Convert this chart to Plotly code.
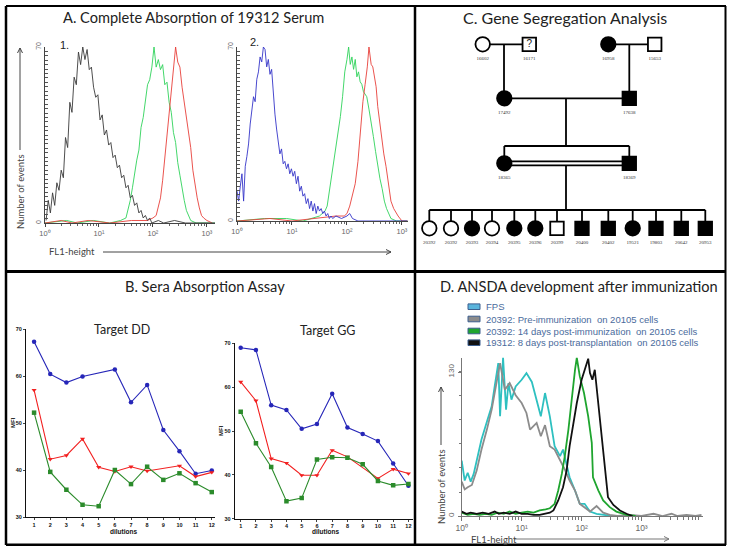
import numpy as np
import plotly.graph_objects as go

W, H = 732, 551
def X(p): return p / W
def Y(p): return 1 - p / H

TITLE_FONT = "Lato"
# ---------------- Panel A data (log10 FL1 channel, number of events) -------------
a1_black_lx = [0.02,0.06,0.10,0.14,0.18,0.22,0.26,0.30,0.34,0.38,0.42,0.46,0.50,0.54,0.58,0.62,0.66,0.70,0.74,0.78,
               0.82,0.86,0.90,0.94,0.98,1.02,1.06,1.10,1.14,1.18,1.22,1.26,1.30,1.34,1.38,1.42,1.46,1.50,1.54,1.58,
               1.62,1.66,1.70,1.74,1.78,1.82,1.86,1.90,1.94,1.98,2.10,2.20,2.40,2.60,3.15]
a1_black_y = [1,9,4,12,7,16,13,21,18,34,30,48,44,58,55,68,63,70,65,69,
              61,62,54,50,51,41,43,35,37,31,32,26,27,22,23,18,19,14,15,10,
              11,7,8,4,5,2,3,1,2,0,1,0,1,0,0]
a1_green_lx = [0.0,0.4,0.6,0.9,1.2,1.4,1.5,1.54,1.58,1.62,1.66,1.70,1.74,1.78,1.82,1.86,1.90,1.94,1.98,2.02,
               2.06,2.10,2.14,2.18,2.22,2.26,2.30,2.34,2.38,2.42,2.46,2.50,2.54,2.58,2.62,2.66,2.70,2.80,3.15]
a1_green_y = [0,1,0,1,0,1,2,5,9,14,20,25,29,38,42,48,55,57,62,70,
              62,65,61,63,55,56,48,44,36,32,24,19,13,9,5,3,1,0,0]
a1_red_lx = [0.0,0.3,0.5,0.8,1.2,1.6,1.9,2.0,2.06,2.10,2.14,2.18,2.22,2.26,2.30,2.34,2.38,2.42,2.46,2.50,
             2.54,2.58,2.62,2.66,2.70,2.74,2.78,2.82,2.86,2.90,2.94,3.0,3.1]
a1_red_y = [0,1,0,1,0,1,1,2,3,6,10,17,26,33,45,52,60,70,64,62,
            54,48,41,34,30,21,15,10,6,3,2,1,0]

a2_blue_lx = [0.0,0.03,0.06,0.09,0.12,0.15,0.18,0.21,0.24,0.27,0.30,0.33,0.36,0.39,0.42,0.45,0.48,0.51,0.54,0.57,
              0.60,0.63,0.66,0.69,0.72,0.75,0.78,0.81,0.84,0.87,0.90,0.93,0.96,0.99,1.02,1.05,1.08,1.11,1.14,1.17,
              1.20,1.23,1.26,1.29,1.32,1.35,1.38,1.41,1.44,1.47,1.50,1.53,1.56,1.59,1.62,1.65,1.68,1.71,1.74,1.80,
              1.90,2.00,2.05,2.10,2.20,3.10]
a2_blue_y = [12,8,14,19,8,22,26,31,39,45,50,48,57,60,66,64,70,69,62,65,
             59,61,50,43,37,31,27,29,23,24,21,23,19,21,18,20,15,18,12,14,
             10,11,7,9,5,8,4,7,3,6,4,5,3,4,2,3,1,2,1,2,
             1,2,3,1,0,0]
a2_green_lx = [0.0,0.5,0.9,1.2,1.5,1.6,1.64,1.68,1.72,1.76,1.80,1.84,1.88,1.92,1.96,2.00,2.03,2.06,2.09,2.12,
               2.15,2.18,2.21,2.24,2.27,2.30,2.33,2.36,2.40,2.44,2.48,2.52,2.56,2.60,2.64,2.68,2.72,2.76,2.80,2.90,3.10]
a2_green_y = [0,1,1,0,2,4,6,12,17,22,30,35,42,50,60,65,70,63,66,61,
              65,58,60,56,55,52,51,50,45,40,34,28,22,17,13,8,5,3,1,0,0]
a2_red_lx = [0.0,0.6,1.0,1.4,1.8,1.95,2.0,2.05,2.10,2.15,2.20,2.25,2.29,2.33,2.37,2.40,2.44,2.47,2.50,2.53,
             2.56,2.60,2.63,2.67,2.71,2.75,2.80,2.85,2.93,3.0,3.1]
a2_red_y = [0,1,0,1,2,2,3,6,10,15,24,38,48,55,62,70,63,62,57,54,
            46,39,33,27,22,15,8,5,2,0,0]

# ---------------- Panel B data (MFI per dilution) -------------
dilutions = [1,2,3,4,5,6,7,8,9,10,11,12]
dd_blue  = [67.3,60.4,58.6,59.9,None,61.4,54.4,58.1,48.5,44.0,39.2,39.9]
dd_red   = [57.0,42.3,43.1,46.6,40.6,39.7,40.7,39.8,None,40.9,38.6,39.5]
dd_green = [52.2,39.6,35.8,32.6,32.3,40.0,37.0,40.7,37.9,39.3,37.2,35.3]
gg_blue  = [69.0,68.5,55.9,54.8,50.5,51.6,58.5,50.8,49.3,47.7,42.6,37.5]
gg_red   = [61.2,56.9,43.7,42.7,39.9,39.9,45.6,44.1,None,39.2,41.3,40.3]
gg_green = [54.4,47.2,41.8,34.0,34.7,43.5,44.0,43.9,42.4,38.6,37.6,37.9]

# ---------------- Panel D data -------------
d_names = ["FPS", "20392: Pre-immunization  on 20105 cells",
           "20392: 14 days post-immunization  on 20105 cells",
           "19312: 8 days post-transplantation  on 20105 cells"]
d_fps_lx = [0.00,0.05,0.10,0.15,0.20,0.25,0.33,0.42,0.50,0.55,0.61,0.64,0.69,0.74,0.78,0.83,0.90,1.00,1.08,1.17,
            1.25,1.32,1.39,1.47,1.55,1.64,1.69,1.80,1.89,1.97,2.05,2.14,2.25,2.36,2.50,2.70]
d_fps_y = [50,32,39,31,38,50,69,85,99,117,138,90,143,96,120,105,117,123,129,121,
           105,90,111,90,63,54,60,35,23,11,11,4,2,1,0,0]
d_pre_lx = [0.00,0.05,0.10,0.17,0.25,0.33,0.42,0.50,0.58,0.64,0.72,0.80,0.90,1.00,1.08,1.14,1.25,1.32,1.39,1.47,
            1.55,1.64,1.72,1.80,1.89,1.97,2.05,2.14,2.25,2.36,2.47,2.60,2.80,3.00,3.20,3.35,3.50,3.60,3.75,3.90,4.00]
d_pre_y = [31,24,26,28,41,60,78,96,120,138,114,120,109,102,93,78,84,72,82,63,
           60,51,42,32,23,11,8,4,9,3,1,0,1,0,2,0,2,0,1,0,1]
d_d14_lx = [0.00,0.10,0.20,0.30,0.40,0.50,0.60,0.70,0.80,0.90,1.00,1.10,1.20,1.30,1.40,1.47,1.55,1.61,1.67,1.72,
            1.78,1.83,1.89,1.92,1.97,2.04,2.11,2.17,2.19,2.28,2.36,2.47,2.58,2.75,2.90]
d_d14_y = [3,1,2,1,2,1,3,2,4,2,3,4,3,5,6,7,11,23,38,54,
           78,105,132,143,126,111,90,66,35,23,14,8,4,1,0]
d_tx_lx = [0.00,0.08,0.15,0.25,0.35,0.45,0.55,0.62,0.70,0.80,0.90,1.00,1.10,1.20,1.30,1.40,1.47,1.53,1.61,1.69,
           1.75,1.80,1.86,1.92,2.00,2.05,2.11,2.14,2.18,2.22,2.28,2.33,2.39,2.44,2.53,2.64,2.75,2.85]
d_tx_y = [4,2,3,2,3,2,4,2,3,2,4,2,2,1,1,2,3,5,14,26,
          41,63,84,102,123,132,142,129,123,132,102,72,44,17,10,5,2,0]

# ---------------- Panel C pedigree data -------------
ped_ids = ["16602","16171","16958","15653","17492","17638","18365","18369",
           "20392","20392","20393","20394","20395","20396","20399","20400","20402","19521","19803","20642","20953"]
ped_sex = ["F","M","F","M","F","M","F","M",
           "F","F","F","F","F","F","M","M","M","F","M","M","M"]
ped_affected = [0,None,1,0,1,1,1,1,
                0,0,1,0,1,1,0,1,1,1,1,1,1]
# layout of the pedigree drawing (generation row, horizontal slot in pixels of panel C)
ped_row = [0,0,0,0,1,1,2,2] + [3]*13
ped_col = [482.7,529.3,608.3,654.7,504.3,629.3,504.3,629.3,
           429.3,451.0,472.0,492.0,514.3,535.3,557.0,582.0,608.3,632.7,656.0,681.3,705.3]
row_y = [44.3, 98.3, 163.3, 228.3]

fig = go.Figure()

def line_trace(lx, y, ax, color, width=1.0, name=None):
    fig.add_trace(go.Scatter(x=np.power(10.0, lx), y=y, xaxis=ax[0], yaxis=ax[1], mode="lines",
                             line=dict(color=color, width=width), name=name, hoverinfo="skip", showlegend=False))

# Panel A
line_trace(a1_green_lx, a1_green_y, ("x", "y"), "#2fd35a", 0.9)
line_trace(a1_red_lx, a1_red_y, ("x", "y"), "#e8403a", 0.9)
line_trace(a1_black_lx, a1_black_y, ("x", "y"), "#3a3a3a", 0.9)
line_trace(a2_green_lx, a2_green_y, ("x2", "y2"), "#2fd35a", 0.9)
line_trace(a2_red_lx, a2_red_y, ("x2", "y2"), "#e8403a", 0.9)
line_trace(a2_blue_lx, a2_blue_y, ("x2", "y2"), "#3434c8", 0.9)

# Panel B
BLUE, RED, GREEN = "#2626b8", "#f22020", "#2b8b2b"
for ax, series in ((("x3", "y3"), (dd_blue, dd_red, dd_green)), (("x4", "y4"), (gg_blue, gg_red, gg_green))):
    for vals, col, sym in zip(series, (BLUE, RED, GREEN), ("circle", "triangle-down", "square")):
        fig.add_trace(go.Scatter(x=dilutions, y=vals, xaxis=ax[0], yaxis=ax[1], mode="lines+markers",
                                 connectgaps=True, line=dict(color=col, width=1.1),
                                 marker=dict(symbol=sym, size=4.5, color=col),
                                 hoverinfo="skip", showlegend=False))

# Panel D
D_COLORS = ["#2ec0c0", "#8c8c8c", "#1fa52f", "#111111"]
D_SWATCH = ["#5ab4dc", "#8c8c8c", "#1fa52f", "#111111"]
for lx, yv, col, nm in zip((d_fps_lx, d_pre_lx, d_d14_lx, d_tx_lx), (d_fps_y, d_pre_y, d_d14_y, d_tx_y), D_COLORS, d_names):
    line_trace(lx, yv, ("x5", "y5"), col, 1.8, nm)

# Panel C pedigree
px_of = ped_col
py_of = [row_y[r] for r in ped_row]
lx_, ly_ = [], []
def seg(x0, y0, x1, y1):
    lx_.extend([x0, x1, None]); ly_.extend([y0, y1, None])
seg(px_of[0], py_of[0], px_of[1], py_of[1])
seg(504.0, py_of[0], 504.0, py_of[4])
seg(px_of[2], py_of[2], px_of[3], py_of[3])
seg(px_of[5], py_of[2], px_of[5], py_of[5])
seg(px_of[4], py_of[4], px_of[5], py_of[5])
seg(566.0, py_of[4], 566.0, 146.0)
seg(px_of[6], 146.0, px_of[7], 146.0)
seg(px_of[6], 146.0, px_of[6], py_of[6])
seg(px_of[7], 146.0, px_of[7], py_of[7])
seg(px_of[6], py_of[6] - 2.0, px_of[7], py_of[7] - 2.0)
seg(px_of[6], py_of[6] + 2.0, px_of[7], py_of[7] + 2.0)
seg(566.0, py_of[6] + 2.0, 566.0, 210.0)
seg(px_of[8], 210.0, px_of[-1], 210.0)
for i in range(8, len(ped_ids)):
    seg(px_of[i], 210.0, px_of[i], py_of[i])
fig.add_trace(go.Scatter(x=lx_, y=ly_, xaxis="x6", yaxis="y6", mode="lines",
                         line=dict(color="black", width=1.8), hoverinfo="skip", showlegend=False))
fig.add_trace(go.Scatter(
    x=px_of, y=py_of, xaxis="x6", yaxis="y6", mode="markers",
    marker=dict(symbol=["circle" if s == "F" else "square" for s in ped_sex],
                size=[14.5 if s == "F" else 13.5 for s in ped_sex], opacity=1,
                color=["black" if a == 1 else "white" for a in ped_affected],
                line=dict(color="black", width=1.8)),
    hoverinfo="skip", showlegend=False))
fig.add_trace(go.Scatter(
    x=[px_of[i] for i in range(len(ped_ids)) if ped_affected[i] is None],
    y=[py_of[i] for i in range(len(ped_ids)) if ped_affected[i] is None],
    text=["?"], xaxis="x6", yaxis="y6", mode="text",
    textfont=dict(size=10, color="#222", family="Arial"), hoverinfo="skip", showlegend=False))
fig.add_trace(go.Scatter(
    x=px_of, y=[v + 14.0 for v in py_of], text=ped_ids, xaxis="x6", yaxis="y6", mode="text",
    textfont=dict(size=5, color="#333", family="Liberation Serif"), hoverinfo="skip", showlegend=False))

# ---------------- axes ----------------
def log_minor(maxdec):
    vals = []
    for d in range(maxdec + 1):
        for m in range(2, 10):
            vals.append(m * 10 ** d)
    return vals

tt_log = ["10\u2070", "10\u00b9", "10\u00b2", "10\u00b3"]
common = dict(showgrid=False, zeroline=False, showline=True, mirror=False, automargin=False)
layout_axes = {}
# A1
layout_axes["xaxis"] = dict(common, domain=[X(45), X(215)], anchor="y", type="log", range=[0, 3.15],
                            tickvals=[1, 10, 100, 1000], ticktext=tt_log, ticks="outside", ticklen=3,
                            linecolor="#444", linewidth=1, tickcolor="#444",
                            tickfont=dict(size=7.5, color="#666", family="Arial"),
                            minor=dict(tickvals=log_minor(3), ticks="outside", ticklen=2, tickcolor="#666"))
layout_axes["yaxis"] = dict(common, domain=[Y(223), Y(47)], anchor="x", range=[0, 70],
                            tickvals=[0, 70], ticks="inside", ticklen=4, tickangle=-90,
                            linecolor="#444", linewidth=1, tickcolor="#444",
                            tickfont=dict(size=7, color="#666", family="Arial"),
                            minor=dict(dtick=1.75, ticks="inside", ticklen=3, tickcolor="#555"))
# A2
layout_axes["xaxis2"] = dict(common, domain=[X(237), X(408)], anchor="y2", type="log", range=[0, 3.11],
                             tickvals=[1, 10, 100, 1000], ticktext=tt_log, ticks="outside", ticklen=3,
                             linecolor="#444", linewidth=1, tickcolor="#444",
                             tickfont=dict(size=7.5, color="#666", family="Arial"),
                             minor=dict(tickvals=log_minor(3), ticks="outside", ticklen=2, tickcolor="#666"))
layout_axes["yaxis2"] = dict(common, domain=[Y(221), Y(47)], anchor="x2", range=[0, 70],
                             tickvals=[0, 70], ticks="inside", ticklen=4, tickangle=-90,
                             linecolor="#444", linewidth=1, tickcolor="#444",
                             tickfont=dict(size=7, color="#666", family="Arial"),
                             minor=dict(dtick=1.75, ticks="inside", ticklen=3, tickcolor="#555"))
# B axes
bfont = dict(size=5.5, color="#111", family="Arial", weight="bold")
layout_axes["xaxis3"] = dict(common, domain=[X(26), X(215)], anchor="y3", range=[0.5, 12.2],
                             tickvals=dilutions, ticks="outside", ticklen=2, linecolor="#111", linewidth=1,
                             tickfont=bfont)
layout_axes["yaxis3"] = dict(common, domain=[Y(517), Y(329)], anchor="x3", range=[30, 70],
                             tickvals=[30, 40, 50, 60, 70], ticks="outside", ticklen=2, linecolor="#111", linewidth=1,
                             tickfont=bfont)
layout_axes["xaxis4"] = dict(common, domain=[X(234.6), X(413)], anchor="y4", range=[0.6, 12.3],
                             tickvals=dilutions, ticks="outside", ticklen=2, linecolor="#111", linewidth=1,
                             tickfont=bfont)
layout_axes["yaxis4"] = dict(common, domain=[Y(518.7), Y(343.3)], anchor="x4", range=[30, 70],
                             tickvals=[30, 40, 50, 60, 70], ticks="outside", ticklen=2, linecolor="#111", linewidth=1,
                             tickfont=bfont)
# D axes
layout_axes["xaxis5"] = dict(common, domain=[X(461.7), X(702.7)], anchor="y5", type="log", range=[0, 4.02],
                             tickvals=[1, 10, 100, 1000], ticktext=tt_log, ticks="outside", ticklen=4,
                             linecolor="#777", linewidth=1.2, tickcolor="#777",
                             tickfont=dict(size=8.5, color="#666", family="Arial"),
                             minor=dict(tickvals=log_minor(3), ticks="outside", ticklen=3, tickcolor="#777"))
layout_axes["yaxis5"] = dict(common, domain=[Y(516), Y(357.6)], anchor="x5", range=[0, 143],
                             tickvals=[0, 130], ticks="outside", ticklen=3, tickangle=-90,
                             linecolor="#777", linewidth=1.2, tickcolor="#777",
                             tickfont=dict(size=8, color="#666", family="Arial"),
                             minor=dict(dtick=21.67, ticks="outside", ticklen=2, tickcolor="#777"))
# C pedigree axes (pixel units of the panel)
layout_axes["xaxis6"] = dict(domain=[X(416), X(724)], anchor="y6", range=[416, 724], visible=False, automargin=False)
layout_axes["yaxis6"] = dict(domain=[Y(270), Y(0)], anchor="x6", range=[270, 0], visible=False, automargin=False)

fig.update_layout(width=W, height=H, margin=dict(l=0, r=0, t=0, b=0, autoexpand=False),
                  paper_bgcolor="white", plot_bgcolor="rgba(0,0,0,0)", showlegend=False, **layout_axes)

# ---------------- text annotations ----------------
ann = []
def txt(x, y, s, size, color="#222", family=TITLE_FONT, xanchor="center", angle=0, bold=False):
    f = dict(size=size, color=color, family=family)
    if bold:
        f["weight"] = "bold"
    ann.append(dict(x=X(x), y=Y(y), xref="paper", yref="paper", text=s, showarrow=False,
                    font=f, xanchor=xanchor, yanchor="middle", textangle=angle))

txt(193, 18, "A. Complete Absorption of 19312 Serum", 14.6)
txt(205, 286, "B. Sera Absorption Assay", 14.6)
txt(565, 17, "C. Gene Segregation Analysis", 16)
txt(579, 286, "D. ANSDA development after immunization", 14.6)
txt(58, 45, "1.", 11, family="Arial", xanchor="left")
txt(248, 42, "2.", 11, family="Arial", xanchor="left")
txt(20, 192, "Number of events", 9.5, color="#444", angle=-90)
txt(47, 252, "FL1-height", 9.5, color="#444", xanchor="left")
txt(122, 329, "Target DD", 12.5)
txt(327, 330, "Target GG", 12.5)
txt(123, 531, "dilutions", 6.5, color="#111", family="Arial", bold=True)
txt(325, 531, "dilutions", 6.5, color="#111", family="Arial", bold=True)
txt(13, 423, "MFI", 6, color="#111", family="Arial", angle=-90, bold=True)
txt(221, 431, "MFI", 6, color="#111", family="Arial", angle=-90, bold=True)
txt(441, 486, "Number of events", 9.5, color="#444", angle=-90)
txt(469, 539, "FL1-height", 9.5, color="#444", xanchor="left")
legend_rows = [306.7, 319.0, 331.0, 342.7]
for nm, yy in zip(d_names, legend_rows):
    txt(484, yy, nm, 9.5, color="#4a6b9c", family="Arial", xanchor="left")
fig.update_layout(annotations=ann)

# ---------------- shapes: panel frames, arrows and legend swatches ----------------
shapes = []
def pline(x0, y0, x1, y1, w=2.5, color="black"):
    shapes.append(dict(type="line", xref="paper", yref="paper", x0=X(x0), y0=Y(y0), x1=X(x1), y1=Y(y1),
                       line=dict(color=color, width=w)))
def parrow(x0, y0, x1, y1, color="#444"):
    pline(x0, y0, x1, y1, 1, color)
    if x0 == x1:  # vertical, head at y1 (pointing up)
        pts = [(x1 - 2.5, y1 + 5), (x1, y1), (x1 + 2.5, y1 + 5)]
    else:         # horizontal, head at x1 (pointing right)
        pts = [(x1 - 5, y1 - 2.5), (x1, y1), (x1 - 5, y1 + 2.5)]
    path = "M {} {} L {} {} L {} {}".format(*[v for p in pts for v in (X(p[0]), Y(p[1]))])
    shapes.append(dict(type="path", xref="paper", yref="paper", path=path, line=dict(color=color, width=1)))

pline(6, 6, 726, 6, 2)
pline(6, 6, 6, 545, 2.5)
pline(725.5, 6, 725.5, 545, 2)
pline(6, 544.7, 726, 544.7, 2.5)
pline(415, 6, 415, 545, 2.5)
pline(6, 271.5, 726, 271.5, 3)
parrow(20, 150, 20, 48)
parrow(103, 252, 391, 252)
parrow(441, 445, 441, 387)
parrow(514, 539, 669, 539, color="#777")
for col, yy in zip(D_SWATCH, legend_rows):
    shapes.append(dict(type="rect", xref="paper", yref="paper", x0=X(468), x1=X(480), y0=Y(yy + 2.8), y1=Y(yy - 2.8),
                       fillcolor=col, line=dict(color="#3d5f8f", width=1)))
fig.update_layout(shapes=shapes)

fig.write_html("out.html", config={"displayModeBar": False},
               post_script="document.body.style.margin='0';document.body.style.padding='0';")
